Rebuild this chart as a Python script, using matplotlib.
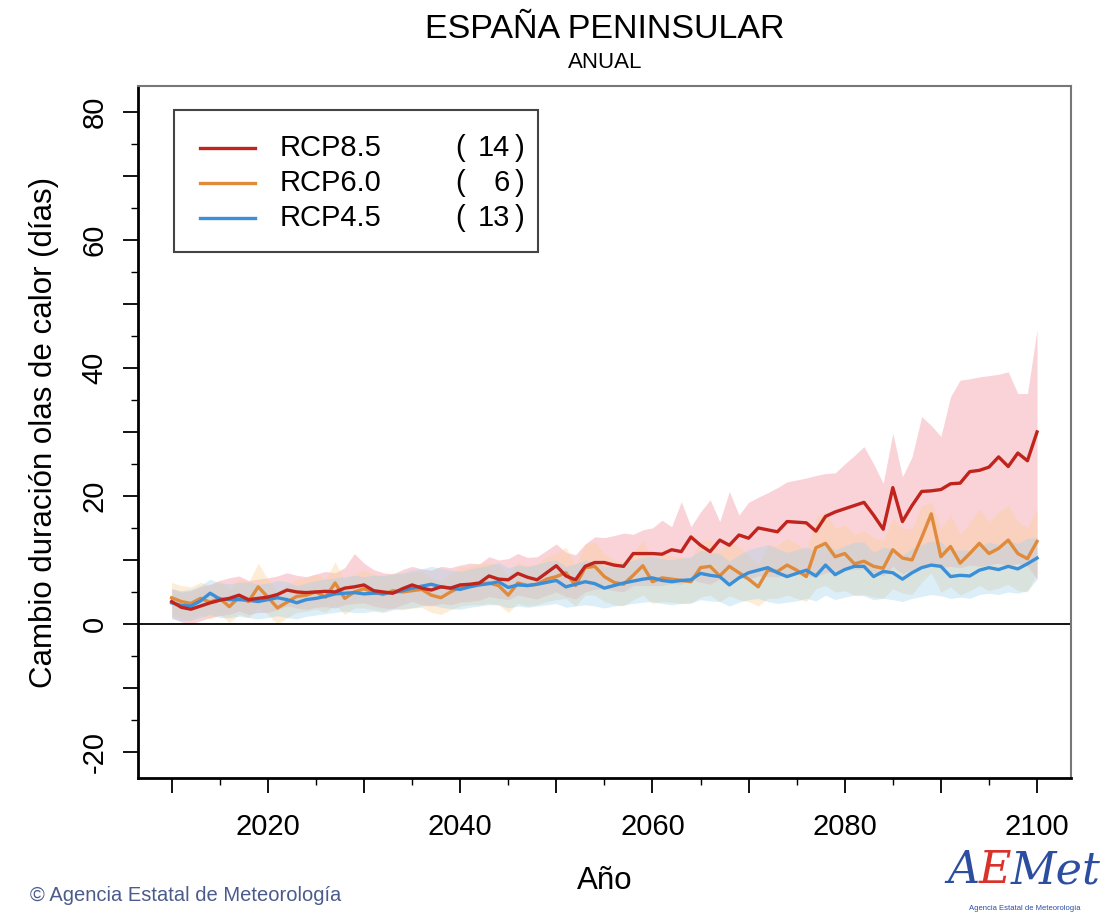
import matplotlib

matplotlib.use("Agg")
import matplotlib.pyplot as plt
import numpy as np
from matplotlib.patches import Rectangle
from matplotlib.ticker import FuncFormatter, MultipleLocator

# --- data ----------------------------------------------------------------
years = list(range(2010, 2101))

rcp85_mean = [
    3.5, 2.6, 2.3, 2.8, 3.3, 3.7, 4.0, 4.5, 3.8, 4.0,
    4.2, 4.6, 5.3, 5.0, 4.9, 5.0, 5.1, 5.0, 5.6, 5.8,
    6.1, 5.2, 5.0, 4.8, 5.5, 6.1, 5.6, 5.3, 5.8, 5.6,
    6.1, 6.2, 6.4, 7.5, 7.0, 6.9, 7.9, 7.3, 6.9, 8.0,
    9.1, 7.5, 6.9, 9.0, 9.6, 9.6, 9.2, 9.0, 11.0, 11.0,
    11.0, 10.9, 11.6, 11.3, 13.6, 12.3, 11.3, 13.1, 12.3, 13.9,
    13.4, 15.0, 14.7, 14.4, 16.0, 15.9, 15.8, 14.5, 16.8, 17.5,
    18.0, 18.5, 19.0, 17.0, 14.8, 21.3, 16.0, 18.5, 20.7, 20.8,
    21.0, 21.9, 22.0, 23.8, 24.0, 24.5, 26.1, 24.6, 26.7, 25.5,
    30.0,
]
rcp85_low = [
    1.0, 0.3, 0.0, 0.5, 1.0, 1.3, 1.5, 2.0, 1.5, 1.8,
    1.8, 2.2, 2.8, 2.5, 2.3, 2.6, 2.7, 2.5, 3.0, 3.2,
    3.3, 2.8, 2.5, 2.4, 3.0, 3.5, 3.0, 2.8, 3.2, 3.0,
    3.4, 3.5, 3.7, 4.3, 4.0, 3.8, 4.5, 4.2, 3.9, 4.5,
    5.0, 4.3, 3.9, 5.0, 5.4, 5.5, 5.2, 5.0, 6.0, 6.0,
    6.0, 6.0, 6.3, 6.2, 7.0, 6.5, 6.2, 7.0, 6.6, 7.2,
    7.0, 7.5, 7.4, 7.3, 7.8, 7.8, 7.6, 7.3, 8.0, 8.2,
    8.4, 8.5, 8.6, 8.0, 7.5, 9.0, 7.8, 8.5, 9.0, 9.0,
    8.8, 9.0, 8.8, 9.2, 9.0, 9.2, 9.5, 9.0, 9.5, 9.0,
    7.0,
]
rcp85_high = [
    5.5, 5.0, 5.2, 5.8, 6.2, 6.8, 7.2, 7.5, 6.8, 7.0,
    7.2, 7.5, 8.0, 7.6, 7.4, 7.8, 8.2, 8.0, 8.8, 11.0,
    9.5, 8.5, 8.0, 7.8, 8.5, 9.0, 8.6, 8.4, 9.0, 8.8,
    9.2, 9.5, 9.4, 10.5, 10.0, 10.2, 11.0, 10.4, 10.5, 11.5,
    12.5, 11.2, 10.8, 12.5, 13.6, 13.5, 13.8, 14.2, 14.0, 14.7,
    15.0, 16.2, 15.2, 19.1, 15.2, 17.5, 19.4, 16.0, 20.7, 17.0,
    19.0, 19.8, 20.5, 21.3, 22.2, 22.5, 22.8, 23.2, 23.5, 23.6,
    25.0, 26.3, 27.7, 25.0, 22.0, 29.8, 23.0, 26.1, 32.4, 31.0,
    29.3, 35.5, 38.1, 38.3, 38.6, 38.8, 39.0, 39.4, 36.0, 36.0,
    46.0,
]

rcp60_mean = [
    4.1, 3.5, 3.2, 4.0, 3.4, 4.0, 2.7, 4.2, 3.5, 5.8,
    4.2, 2.5, 3.4, 4.3, 4.5, 5.0, 4.2, 6.4, 4.0, 5.0,
    5.5, 5.0, 4.6, 5.2, 5.0, 5.2, 5.4, 4.5, 4.1, 5.0,
    5.8, 6.0, 6.2, 6.4, 6.0, 4.5, 6.4, 6.0, 6.2, 7.0,
    7.4, 8.0, 6.0, 8.8, 9.0, 7.4, 6.5, 6.2, 7.6, 9.1,
    6.6, 7.2, 7.0, 6.8, 6.6, 8.8, 9.0, 7.5, 9.0, 8.0,
    7.0, 5.8, 8.4, 8.2, 9.2, 8.4, 7.4, 11.9, 12.6, 10.5,
    11.0, 9.4, 9.8, 9.0, 8.7, 11.6, 10.3, 10.0, 13.5, 17.2,
    10.5, 12.1, 9.5, 11.0, 12.6, 11.0, 11.8, 13.1, 11.0, 10.2,
    12.9,
]
rcp60_low = [
    1.5, 0.8, 0.5, 1.5, 0.8, 1.5, 0.2, 1.5, 1.0, 2.5,
    1.5, 0.0, 1.0, 1.8, 2.0, 2.3, 1.8, 3.0, 1.5, 2.5,
    2.5, 2.2, 2.0, 2.5, 2.2, 2.5, 2.6, 1.8, 1.5, 2.2,
    2.8, 3.0, 3.0, 3.2, 3.0, 1.8, 3.2, 2.8, 3.0, 3.5,
    3.8, 4.0, 2.8, 4.5, 4.5, 3.5, 3.0, 2.8, 3.8, 4.5,
    3.2, 3.5, 3.4, 3.2, 3.2, 4.2, 4.5, 3.5, 4.4, 3.8,
    3.5, 2.8, 4.0, 4.0, 4.5, 4.0, 3.5, 5.5, 6.0, 5.0,
    5.2, 4.5, 4.6, 4.2, 4.0, 5.5, 4.8, 4.6, 6.5, 8.0,
    5.0, 5.8, 4.5, 5.2, 6.0, 5.2, 5.6, 6.2, 5.2, 5.0,
    8.0,
]
rcp60_high = [
    6.5, 6.0, 5.8, 6.5, 6.0, 6.8, 5.5, 7.0, 6.5, 9.5,
    7.0, 5.2, 6.0, 7.0, 7.2, 7.8, 7.0, 9.7, 6.8, 7.8,
    8.4, 7.8, 7.4, 8.0, 7.8, 8.0, 8.2, 7.2, 6.8, 7.8,
    8.8, 9.0, 9.4, 9.6, 9.2, 7.5, 9.6, 9.0, 9.4, 10.5,
    11.0, 12.0, 9.2, 12.5, 12.8, 11.0, 10.0, 9.6, 11.2, 13.0,
    10.2, 11.0, 10.6, 10.4, 10.2, 13.0, 13.2, 11.4, 13.0, 12.0,
    10.8, 9.2, 12.4, 12.2, 13.4, 12.6, 11.4, 16.5, 17.5, 15.0,
    15.5, 14.0, 14.5, 13.5, 13.0, 16.5, 15.0, 14.8, 18.5, 19.0,
    15.0, 17.0, 14.0, 15.8, 18.0, 16.0, 17.5, 18.5, 16.0, 15.0,
    18.0,
]

rcp45_mean = [
    3.3, 2.9, 2.8, 3.6, 4.8, 3.9, 3.8, 3.8, 3.7, 3.5,
    3.8, 4.1, 3.8, 3.3, 3.8, 4.0, 4.3, 4.7, 4.8, 4.9,
    4.7, 4.8, 4.8, 4.9, 5.2, 5.6, 5.9, 6.2, 5.8, 5.6,
    5.4, 5.8, 6.1, 6.3, 6.6, 5.7, 6.1, 6.0, 6.2, 6.5,
    6.8, 5.8, 6.2, 6.6, 6.3, 5.6, 6.0, 6.4, 6.7, 7.0,
    7.2, 6.8, 6.6, 6.8, 6.9, 7.9, 7.6, 7.4, 6.1, 7.2,
    8.0, 8.4, 8.8, 8.0, 7.4, 7.9, 8.4, 7.5, 9.2, 7.7,
    8.5, 9.0, 9.0, 7.4, 8.2, 8.0, 7.0, 8.0, 8.8, 9.2,
    9.0, 7.4, 7.6, 7.5, 8.4, 8.8, 8.5, 9.0, 8.6, 9.4,
    10.3,
]
rcp45_low = [
    0.8, 0.5, 0.6, 1.0, 1.5, 1.0, 1.0, 1.2, 1.0, 0.8,
    1.0, 1.3, 1.0, 0.8, 1.2, 1.4, 1.6, 1.8, 2.0, 1.8,
    1.8, 2.0, 1.8, 2.2, 2.4, 2.5, 2.8, 3.0, 2.6, 2.4,
    2.3, 2.6, 2.8, 3.0, 3.0, 2.5, 2.8, 2.6, 2.8, 3.0,
    3.2, 2.6, 2.8, 3.0, 2.8, 2.5, 2.8, 3.0, 3.2, 3.4,
    3.5, 3.2, 3.0, 3.2, 3.3, 3.8, 3.6, 3.5, 2.8, 3.4,
    3.8, 4.0, 3.5, 3.2, 3.4, 3.6, 4.0, 3.6, 4.5, 3.8,
    4.2, 4.5, 4.4, 3.8, 4.0, 3.8, 3.5, 4.0, 4.3, 4.6,
    4.4, 4.0, 4.2, 4.0, 4.6, 4.8, 4.6, 5.0, 4.8, 5.2,
    7.0,
]
rcp45_high = [
    5.5, 5.2, 5.4, 6.0, 7.0, 6.4, 6.3, 6.5, 6.6, 6.2,
    6.4, 6.8, 6.6, 6.0, 6.4, 6.8, 7.0, 7.2, 7.4, 7.6,
    7.4, 7.6, 7.6, 7.8, 8.0, 8.4, 8.6, 9.0, 8.7, 8.4,
    8.2, 8.6, 8.9, 9.2, 9.6, 8.8, 9.2, 9.0, 9.3, 9.8,
    10.0, 9.0, 9.4, 10.0, 9.6, 9.0, 9.3, 9.7, 10.0, 10.4,
    10.6, 10.2, 10.0, 10.3, 10.5, 11.5, 11.2, 11.0, 9.8, 10.8,
    11.6, 12.0, 12.4, 11.8, 11.2, 11.6, 12.0, 11.4, 12.8, 11.6,
    12.2, 12.8, 12.8, 11.2, 12.0, 11.8, 10.8, 11.8, 12.4, 13.0,
    12.8, 11.4, 11.6, 11.5, 12.2, 12.8, 12.4, 13.0, 12.6, 13.4,
    13.5,
]

scenario_names = ["RCP8.5", "RCP6.0", "RCP4.5"]
model_counts = [14, 6, 13]
line_colors = ["#c0241c", "#e08a3c", "#3b8fd6"]
band_colors = ["#f4a8b3", "#fcd09a", "#a3d3ec"]
band_alpha = [0.5, 0.4, 0.38]

plt.rcParams["font.family"] = ["Liberation Sans", "DejaVu Sans"]

fig = plt.figure(figsize=(11.13, 9.16), dpi=100)
ax = fig.add_axes((0.124, 0.1507, 0.838, 0.7555))

yrs = np.array(years)
series = [
    (rcp85_mean, rcp85_low, rcp85_high),
    (rcp60_mean, rcp60_low, rcp60_high),
    (rcp45_mean, rcp45_low, rcp45_high),
]

for (mean, low, high), bc, ba in zip(series, band_colors, band_alpha):
    ax.fill_between(yrs, low, high, color=bc, alpha=ba, linewidth=0)

for i in [1, 2, 0]:
    ax.plot(yrs, series[i][0], color=line_colors[i], linewidth=2.4, zorder=3)

ax.axhline(0, color="black", linewidth=1.3, zorder=2)

ax.set_xlim(2006.5, 2103.5)
ax.set_ylim(-24.06, 84.06)

ax.xaxis.set_major_locator(MultipleLocator(10))
ax.xaxis.set_minor_locator(MultipleLocator(5))
ax.yaxis.set_major_locator(MultipleLocator(10))
ax.yaxis.set_minor_locator(MultipleLocator(5))
ax.xaxis.set_major_formatter(
    FuncFormatter(lambda v, p: f"{v:.0f}" if round(v) % 20 == 0 else "")
)
ax.yaxis.set_major_formatter(
    FuncFormatter(lambda v, p: f"{v:.0f}" if round(v) % 20 == 0 else "")
)
ax.tick_params(axis="both", which="major", length=11, width=1.3,
               labelsize=21, color="black")
ax.tick_params(axis="both", which="minor", length=5, width=1.0)
ax.tick_params(axis="x", which="major", pad=14)
ax.tick_params(axis="y", which="major", pad=10)
for lab in ax.get_yticklabels():
    lab.set_rotation(90)
    lab.set_va("center")

for side in ["top", "right"]:
    ax.spines[side].set_color("#777777")
    ax.spines[side].set_linewidth(1.5)
for side in ["left", "bottom"]:
    ax.spines[side].set_color("black")
    ax.spines[side].set_linewidth(2.0)

ax.set_xlabel("Año", fontsize=22.5, labelpad=18)
ax.set_ylabel("Cambio duración olas de calor (días)", fontsize=22.5, labelpad=16)

fig.text(0.5435, 0.968, "ESPAÑA PENINSULAR", ha="center", va="center", fontsize=24.5)
fig.text(0.5435, 0.932, "ANUAL", ha="center", va="center", fontsize=16)

# legend drawn by hand so the model counts line up
ax.add_patch(Rectangle((0.0386, 0.760), 0.3901, 0.2053, transform=ax.transAxes,
                       facecolor="white", edgecolor="#444444", linewidth=1.5,
                       zorder=5))
row_y = [0.9104, 0.8598, 0.8092]
for name, n, col, ry in zip(scenario_names, model_counts, line_colors, row_y):
    ax.plot([0.0665, 0.1254], [ry, ry], color=col, linewidth=2.4,
            transform=ax.transAxes, zorder=6)
    ax.text(0.1522, ry, name, transform=ax.transAxes, fontsize=21,
            va="center", ha="left", zorder=6)
    ax.text(0.3398, ry, "(", transform=ax.transAxes, fontsize=21,
            va="center", ha="left", zorder=6)
    ax.text(0.3990, ry, str(n), transform=ax.transAxes, fontsize=21,
            va="center", ha="right", zorder=6)
    ax.text(0.4040, ry, ")", transform=ax.transAxes, fontsize=21,
            va="center", ha="left", zorder=6)

# footer credit and logo
fig.text(0.027, 0.012, "© Agencia Estatal de Meteorología", fontsize=14.5,
         color="#4b5c8c", ha="left", va="bottom")
fig.text(0.851, 0.026, "A", fontsize=32, color="#2b4ea0", style="italic",
         ha="left", va="bottom", family="DejaVu Serif")
fig.text(0.879, 0.026, "E", fontsize=32, color="#d8322a", style="italic",
         ha="left", va="bottom", family="DejaVu Serif")
fig.text(0.908, 0.026, "Met", fontsize=32, color="#2b4ea0", style="italic",
         ha="left", va="bottom", family="DejaVu Serif")
fig.text(0.921, 0.004, "Agencia Estatal de Meteorología", fontsize=5.5,
         color="#2b4ea0", ha="center", va="bottom")

fig.savefig("out.png", dpi=100)
